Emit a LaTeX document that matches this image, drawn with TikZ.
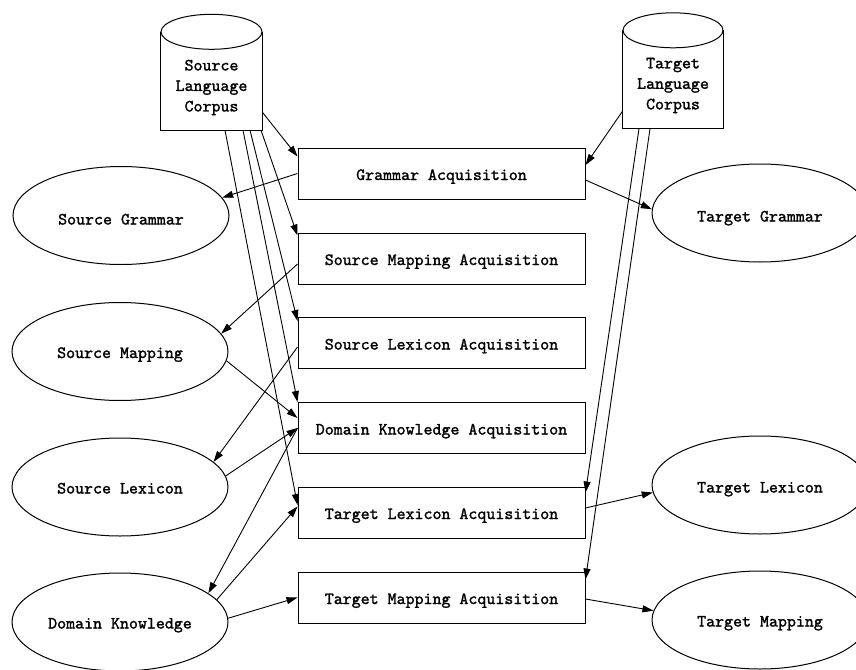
\documentclass[tikz,border=0pt]{standalone}
\usepackage{fontspec}
\newfontfamily\diagfont[FakeBold=1.5]{lmmono10-regular.otf}
\usetikzlibrary{arrows.meta,shapes.geometric,calc}
\begin{document}
\begin{tikzpicture}[x=1pt,y=-1pt,
  every node/.style={font=\diagfont\fontsize{17.1}{20.5}\selectfont},
  acq/.style={draw, line width=1pt, rectangle, minimum width=287pt, minimum height=51pt, inner sep=0pt, text height=13pt, text depth=0pt},
  res/.style={draw, line width=1pt, ellipse, minimum width=216pt, minimum height=98pt, inner sep=0pt, text height=13pt, text depth=0pt},
  link/.style={line width=0.9pt, -{Triangle[length=11pt,width=7pt]}},
  corpusbody/.style={rectangle, inner sep=0pt, minimum width=101pt, minimum height=98pt},
  cyl/.style={line width=1pt}
]
\useasboundingbox (0,0) rectangle (856,669);
\fill[white] (0,0) rectangle (856,669);

% corpora
\node[corpusbody] (slcb) at (211.5,81) {};
\node[align=center] (slc) at (211.5,87.5) {Source\\Language\\Corpus};
\draw[cyl] (slcb.north west) -- (slcb.south west) -- (slcb.south east) -- (slcb.north east);
\draw[cyl] (slcb.north) ellipse [x radius=50.5, y radius=17.5];

\node[corpusbody] (tlcb) at (673,79.5) {};
\node[align=center] (tlc) at (673,85.5) {Target\\Language\\Corpus};
\draw[cyl] (tlcb.north west) -- (tlcb.south west) -- (tlcb.south east) -- (tlcb.north east);
\draw[cyl] (tlcb.north) ellipse [x radius=50, y radius=17.5];

% acquisition boxes
\node[acq] (ga)  at (441.5,173.5) {Grammar Acquisition};
\node[acq] (sma) at (441.5,258.5) {Source Mapping Acquisition};
\node[acq] (sla) at (441.5,343) {Source Lexicon Acquisition};
\node[acq] (dka) at (441.5,428) {Domain Knowledge Acquisition};
\node[acq] (tla) at (441.5,512.5) {Target Lexicon Acquisition};
\node[acq] (tma) at (441.5,597.5) {Target Mapping Acquisition};

% results
\node[res, text height=18pt] (sg) at (121,215.5) {Source Grammar};
\node[res] (sm) at (120,351.5) {Source Mapping};
\node[res] (sl) at (120,487) {Source Lexicon};
\node[res] (dk) at (120,622) {Domain Knowledge};
\node[res, text height=17pt] (tg) at (760,213) {Target Grammar};
\node[res, text height=15pt] (tl) at (760,485) {Target Lexicon};
\node[res] (tm) at (760,620) {Target Mapping};

% edges from source corpus
\draw[link] ($(slcb.east)+(0,31)$) -- ($(ga.north west)+(0,9)$);
\draw[link] ($(slcb.south)+(49.5,0)$) -- ($(sma.north west)+(0,3)$);
\draw[link] ($(slcb.south)+(38.5,0)$) -- ($(sla.north west)+(0,4)$);
\draw[link] ($(slcb.south)+(31.5,0)$) -- (dka.north west);
\draw[link] ($(slcb.south)+(13.5,0)$) -- ($(tla.west)+(0,-7.5)$);

% edges from target corpus
\draw[link] ($(tlcb.west)+(0,32)$) -- ($(ga.east)+(0,-8.5)$);
\draw[link] ($(tlcb.south)+(-34,0)$) -- ($(tla.north east)+(0,6)$);
\draw[link] ($(tlcb.south)+(-23,0)$) -- ($(tma.north east)+(0,8)$);

% grammar
\draw[link] (ga.west) -- (sg.10);
\draw[link] ($(ga.east)+(0,6.5)$) -- (tg.178);

% mapping / lexicon / domain knowledge
\draw[link] ($(sma.west)+(0,5.5)$) -- (sm.10);
\draw[link] (sm.-5) -- ($(dka.west)+(0,-10)$);
\draw[link] ($(sla.west)+(0,4)$) -- (sl.15);
\draw[link] (sl.6) -- (dka.west);
\draw[link] (dka.west) -- (dk.18);
\draw[link] (dk.13) -- ($(tla.west)+(0,-6)$);
\draw[link] (dk.2) -- (tma.west);

% target outputs
\draw[link] ($(tla.east)+(0,-4.5)$) -- (tl.184);
\draw[link] ($(tma.east)+(0,1.5)$) -- (tm.175);
\end{tikzpicture}
\end{document}
